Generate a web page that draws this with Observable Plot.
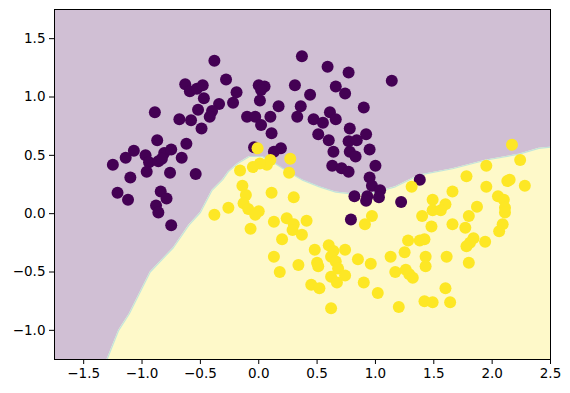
<!DOCTYPE html>
<html>
<head>
<meta charset="utf-8">
<script src="https://cdn.jsdelivr.net/npm/d3@7"></script>
<script src="https://cdn.jsdelivr.net/npm/@observablehq/plot@0.6"></script>
<style>
  html, body { margin: 0; padding: 0; background: #ffffff; }
  #chart { width: 570px; height: 393px; }
</style>
</head>
<body>
<div id="chart"></div>
<script>
// Decision boundary (class 0 region above, class 1 region below)
const boundaryX = [-1.30, -1.20, -1.11, -0.93, -0.73, -0.60, -0.50, -0.40, -0.31, -0.26, -0.18, -0.08, 0.03, 0.14, 0.25, 0.37, 0.52, 0.66, 0.80, 0.95, 1.06, 1.17, 1.37, 1.66, 1.95, 2.23, 2.40, 2.50];
const boundaryY = [-1.25, -1.00, -0.86, -0.50, -0.29, -0.10, 0.01, 0.20, 0.29, 0.36, 0.43, 0.49, 0.49, 0.43, 0.36, 0.29, 0.23, 0.185, 0.17, 0.17, 0.20, 0.23, 0.33, 0.385, 0.46, 0.51, 0.56, 0.57];

// Class 0 points (purple)
const class0X = [-0.38, -0.28, -0.63, -0.59, -0.53, -0.48, -0.47, -0.34, -0.22, -0.19, -0.89, -0.52, -0.68, -0.58, -0.40, -0.42, -0.49, -0.87, -0.62, -1.07, -1.14, -1.25, -0.97, -0.81, -0.75, -0.66, -0.94, -0.86, -0.83, -0.96, -0.76, -0.54, -1.10, -1.21, -1.12, -0.84, -0.79, -0.88, -0.86, -0.75, 0.00, 0.05, 0.02, 0.31, 0.37, 0.01, 0.17, -0.10, -0.03, 0.10, 0.02, 0.11, 0.36, 0.33, -0.04, 0.19, 0.13, 0.59, 0.44, 0.47, 0.55, 0.61, 0.51, 0.60, 0.77, 1.14, 0.66, 0.74, 0.90, 0.66, 0.78, 0.92, 0.77, 0.84, 0.95, 0.64, 0.78, 0.83, 0.63, 0.71, 0.77, 1.00, 0.95, 0.97, 1.04, 1.38, 0.82, 0.93, 0.92, 1.03, 1.22, 0.79];
const class0Y = [1.31, 1.15, 1.11, 1.05, 1.07, 1.10, 0.99, 0.94, 0.95, 1.04, 0.87, 0.89, 0.81, 0.80, 0.88, 0.83, 0.73, 0.63, 0.60, 0.54, 0.48, 0.42, 0.50, 0.52, 0.55, 0.48, 0.44, 0.45, 0.47, 0.36, 0.35, 0.34, 0.31, 0.18, 0.12, 0.19, 0.13, 0.07, 0.01, -0.10, 1.10, 1.09, 1.06, 1.10, 1.35, 0.97, 0.92, 0.83, 0.83, 0.83, 0.76, 0.69, 0.92, 0.83, 0.57, 0.56, 0.53, 1.26, 1.02, 0.81, 0.78, 0.87, 0.68, 0.63, 1.21, 1.14, 1.09, 1.03, 0.91, 0.81, 0.73, 0.68, 0.62, 0.63, 0.55, 0.53, 0.53, 0.49, 0.41, 0.39, 0.36, 0.41, 0.31, 0.24, 0.20, 0.29, 0.15, 0.15, 0.11, 0.14, 0.10, -0.05];

// Class 1 points (yellow)
const class1X = [-0.01, 0.27, 0.10, 0.07, 0.01, -0.05, -0.16, 0.26, -0.14, 0.11, 0.30, -0.11, -0.13, -0.26, -0.38, -0.09, 0.00, -0.03, 0.13, 0.24, 0.30, 0.29, 0.41, 0.37, -0.07, 0.20, 0.48, 0.60, 0.13, 0.34, 0.50, 0.51, 0.18, 0.45, 0.52, 0.62, 0.64, 0.62, 0.66, 0.68, 0.62, 0.74, 0.85, 0.96, 0.74, 0.67, 0.90, 1.02, 0.97, 0.91, 1.31, 1.49, 1.49, 1.40, 1.48, 1.28, 1.38, 1.42, 1.25, 1.13, 1.43, 1.43, 1.17, 1.26, 1.29, 1.32, 1.20, 1.42, 1.49, 1.60, 1.64, 1.61, 1.80, 1.60, 1.56, 1.66, 1.66, 1.77, 1.80, 1.87, 1.95, 2.05, 2.10, 2.11, 2.11, 2.09, 2.06, 2.28, 2.13, 2.15, 2.17, 2.24, 1.95, 1.78, 1.94, 1.84, 1.81, 1.78];
const class1Y = [0.56, 0.47, 0.46, 0.42, 0.43, 0.40, 0.37, 0.35, 0.24, 0.18, 0.14, 0.16, 0.09, 0.05, -0.01, 0.04, 0.02, -0.01, -0.07, -0.04, -0.09, -0.14, -0.06, -0.18, -0.13, -0.22, -0.31, -0.27, -0.37, -0.44, -0.42, -0.45, -0.50, -0.61, -0.64, -0.54, -0.32, -0.37, -0.41, -0.47, -0.81, -0.31, -0.39, -0.43, -0.53, -0.59, -0.59, -0.68, -0.02, -0.09, 0.23, 0.12, 0.03, -0.02, -0.11, -0.23, -0.23, -0.22, -0.33, -0.37, -0.37, -0.45, -0.50, -0.48, -0.52, -0.55, -0.80, -0.75, -0.76, -0.64, -0.76, -0.37, -0.42, 0.08, 0.03, 0.19, -0.09, -0.12, -0.02, 0.06, 0.23, 0.15, 0.12, 0.05, 0.01, -0.09, -0.15, 0.24, 0.28, 0.29, 0.59, 0.46, 0.41, 0.32, -0.24, -0.21, -0.25, -0.28];

const xTicks = [-1.5, -1.0, -0.5, 0.0, 0.5, 1.0, 1.5, 2.0, 2.5];
const yTicks = [-1.0, -0.5, 0.0, 0.5, 1.0, 1.5];

const boundary = boundaryX.map((x, i) => ({x, y: boundaryY[i]}));
const class0 = class0X.map((x, i) => ({x, y: class0Y[i]}));
const class1 = class1X.map((x, i) => ({x, y: class1Y[i]}));
const fmt = d => d.toFixed(1).replace("-", "\u2212");

const chart = Plot.plot({
  width: 570,
  height: 393,
  marginLeft: 54,
  marginRight: 20,
  marginTop: 9,
  marginBottom: 34,
  style: {fontFamily: "DejaVu Sans", fontSize: "13.5px", color: "black", background: "white"},
  x: {domain: [-1.75, 2.5], label: null},
  y: {domain: [-1.25, 1.75], label: null},
  marks: [
    Plot.frame({fill: "#d0bfd4", stroke: null}),
    Plot.areaY(boundary, {x: "x", y1: -1.25, y2: "y", fill: "#fef9c9"}),
    Plot.line(boundary, {x: "x", y: "y", stroke: "#c2e4dc", strokeWidth: 1.2}),
    Plot.dot(class0, {x: "x", y: "y", r: 6, fill: "#440154"}),
    Plot.dot(class1, {x: "x", y: "y", r: 6, fill: "#fde725"}),
    Plot.axisX({ticks: xTicks, tickFormat: fmt, tickSize: 5, tickPadding: 4, label: null}),
    Plot.axisY({ticks: yTicks, tickFormat: fmt, tickSize: 5, tickPadding: 4, label: null}),
    Plot.frame({stroke: "black", strokeWidth: 1})
  ]
});
document.getElementById("chart").appendChild(chart);
</script>
</body>
</html>
